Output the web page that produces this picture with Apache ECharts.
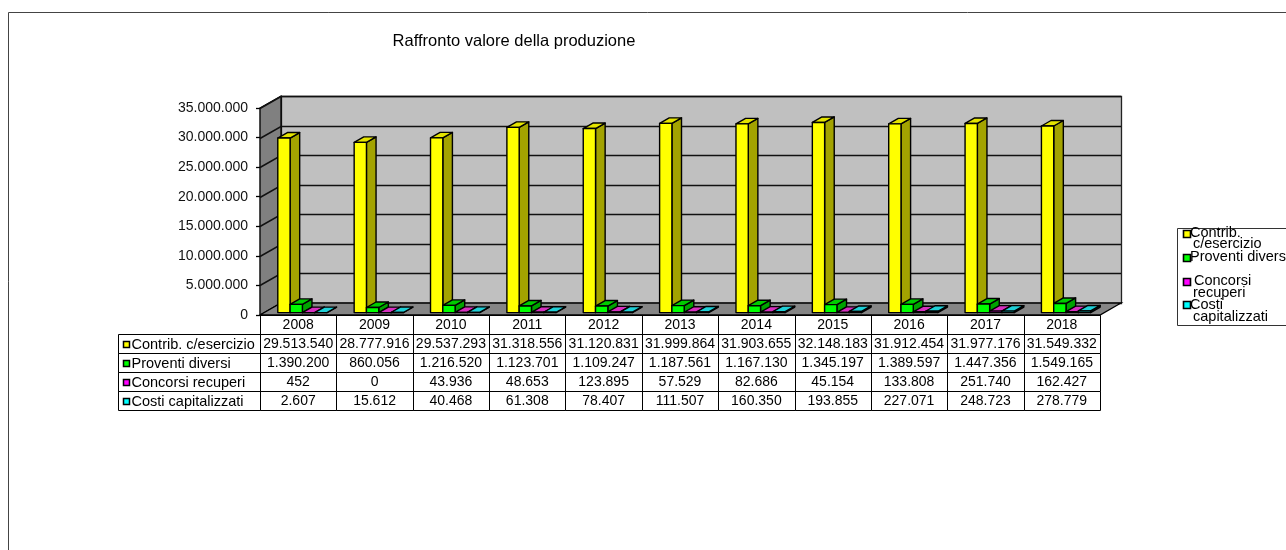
<!DOCTYPE html>
<html>
<head>
<meta charset="utf-8">
<script src="https://cdn.jsdelivr.net/npm/echarts@6/dist/echarts.min.js"></script>
<style>
  html, body { margin: 0; padding: 0; background: #fff; }
  #chart { width: 1286px; height: 550px; }
</style>
</head>
<body>
<div id="chart"></div>
<script>
// ---- data ----
const anni = ['2008', '2009', '2010', '2011', '2012', '2013', '2014', '2015', '2016', '2017', '2018'];
const contribEsercizio = [29513540, 28777916, 29537293, 31318556, 31120831, 31999864, 31903655, 32148183, 31912454, 31977176, 31549332];
const proventiDiversi = [1390200, 860056, 1216520, 1123701, 1109247, 1187561, 1167130, 1345197, 1389597, 1447356, 1549165];
const concorsiRecuperi = [452, 0, 43936, 48653, 123895, 57529, 82686, 45154, 133808, 251740, 162427];
const costiCapitalizzati = [2607, 15612, 40468, 61308, 78407, 111507, 160350, 193855, 227071, 248723, 278779];
const nomiSerie = ['Contrib. c/esercizio', 'Proventi diversi', 'Concorsi recuperi', 'Costi capitalizzati'];
const nomiLegenda = [['Contrib.', 'c/esercizio'], ['Proventi diversi'], ['Concorsi', 'recuperi'], ['Costi', 'capitalizzati']];
const titolo = 'Raffronto valore della produzione';
const asseMax = 35000000;
const assePasso = 5000000;

// ---- look ----
const FONT = '"Liberation Sans", Arial, sans-serif';
const PAL = [
  { front: '#ffff00', side: '#a3a300', top: '#e4e400' },
  { front: '#00ff00', side: '#00a300', top: '#00cc00' },
  { front: '#ff00ff', side: '#a300a3', top: '#d62fbf' },
  { front: '#00ffff', side: '#00a3a3', top: '#1fcfd6' }
];
const DEPTH = [21, -12];       // wall depth offset
const BAR_OFF = [4.2, -2.4];   // front face of the bars inside the depth
const BAR_DEPTH = [9.6, -5.5]; // bar thickness in depth
const BAR_FRAC = 0.161;        // bar width as fraction of the category band
const ROW_H = 19;
const LABEL_COL_W = 142;

const fmt = v => String(Math.round(v)).replace(/\B(?=(\d{3})+(?!\d))/g, '.');
const px = v => Math.round(v) + 0.5;

function renderWalls(params, api) {
  const cs = params.coordSys;
  const dx = DEPTH[0], dy = DEPTH[1];
  const x0 = cs.x, x1 = cs.x + cs.width;
  const yT = cs.y, yB = cs.y + cs.height;
  const kids = [
    { type: 'rect', shape: { x: px(x0 + dx), y: px(yT + dy), width: Math.round(cs.width), height: Math.round(cs.height) },
      style: { fill: '#c0c0c0', stroke: '#222', lineWidth: 1.3 } },
    { type: 'polygon', shape: { points: [[x0, yT], [x0 + dx, yT + dy], [x0 + dx, yB + dy], [x0, yB]] },
      style: { fill: '#808080', stroke: '#000', lineWidth: 1.3 } },
    { type: 'polygon', shape: { points: [[x0, yB], [x1, yB], [x1 + dx, yB + dy], [x0 + dx, yB + dy]] },
      style: { fill: '#858585', stroke: '#000', lineWidth: 1.3 } }
  ];
  for (let v = assePasso; v <= asseMax; v += assePasso) {
    const y = px(api.coord([0, v])[1]);
    kids.push({ type: 'polyline', shape: { points: [[x0, y], [x0 + dx, y + dy], [x1 + dx, y + dy]] },
      style: { stroke: '#111', lineWidth: 1.5, fill: null } });
  }
  return { type: 'group', children: kids };
}

function makeBarRenderer(s) {
  return function (params, api) {
    const i = api.value(0), v = api.value(1);
    const base = api.coord([i, 0]);
    const top = api.coord([i, v]);
    const band = api.size([1, 0])[0];
    const bw = band * BAR_FRAC;
    const x0 = base[0] - 2 * bw + s * bw + BAR_OFF[0];
    const yb = base[1] + BAR_OFF[1];
    const yt = top[1] + BAR_OFF[1];
    const dx = BAR_DEPTH[0], dy = BAR_DEPTH[1];
    const c = PAL[s];
    const edge = { stroke: '#000', lineWidth: 1.4, lineJoin: 'round' };
    const kids = [
      { type: 'polygon', shape: { points: [[x0 + bw, yt], [x0 + bw + dx, yt + dy], [x0 + bw + dx, yb + dy], [x0 + bw, yb]] },
        style: Object.assign({ fill: c.side }, edge) },
      { type: 'polygon', shape: { points: [[x0, yt], [x0 + bw, yt], [x0 + bw + dx, yt + dy], [x0 + dx, yt + dy]] },
        style: Object.assign({ fill: c.top }, edge) },
      { type: 'rect', shape: { x: x0, y: yt, width: bw, height: yb - yt },
        style: Object.assign({ fill: c.front }, edge) }
    ];

    // data table cell for this series / year
    const cs = params.coordSys;
    const axisY = cs.y + cs.height;
    const left = px(base[0] - band / 2);
    const right = px(base[0] + band / 2);
    const rowTop = px(axisY + ROW_H * (s + 1));
    kids.push({ type: 'rect', shape: { x: left, y: rowTop, width: right - left, height: ROW_H },
      style: { fill: null, stroke: '#000', lineWidth: 1 } });
    kids.push({ type: 'text', style: { text: fmt(v), x: base[0], y: rowTop + ROW_H / 2 + 0.5,
      align: 'center', verticalAlign: 'middle', fill: '#000', fontSize: 14, fontFamily: FONT } });

    if (s === 0) {
      // year row borders
      kids.push({ type: 'rect', shape: { x: left, y: px(axisY), width: right - left, height: ROW_H },
        style: { fill: null, stroke: '#000', lineWidth: 1 } });
    }
    if (i === 0) {
      // row header: key + series name
      const hx = px(cs.x - LABEL_COL_W);
      kids.push({ type: 'rect', shape: { x: hx, y: rowTop, width: px(cs.x) - hx, height: ROW_H },
        style: { fill: null, stroke: '#000', lineWidth: 1 } });
      kids.push({ type: 'rect', shape: { x: hx + 5, y: Math.round(rowTop + ROW_H / 2 - 3) + 0.5, width: 6, height: 6 },
        style: { fill: c.front, stroke: '#000', lineWidth: 1.5 } });
      kids.push({ type: 'text', style: { text: nomiSerie[s], x: hx + 13, y: rowTop + ROW_H / 2 + 0.5,
        align: 'left', verticalAlign: 'middle', fill: '#000', fontSize: 14.5, fontFamily: FONT } });
    }
    return { type: 'group', children: kids };
  };
}

const valori = [contribEsercizio, proventiDiversi, concorsiRecuperi, costiCapitalizzati];

// ---- legend (right side) ----
const legendLines = [
  { y: 233, x: 1190 }, { y: 244, x: 1193 },
  { y: 257, x: 1190 },
  { y: 281, x: 1194 }, { y: 293, x: 1193 },
  { y: 305, x: 1190 }, { y: 317, x: 1193 }
];
const legendKeys = [234, 258, 282, 305];
const legendGraphic = [
  { type: 'rect', shape: { x: 1177.5, y: 228.5, width: 140, height: 97 },
    style: { fill: '#fff', stroke: '#333', lineWidth: 1 } }
];
let li = 0;
nomiLegenda.forEach((righe, s) => {
  legendGraphic.push({ type: 'rect', shape: { x: 1183.5, y: legendKeys[s] - 3.5, width: 7, height: 7 },
    style: { fill: PAL[s].front, stroke: '#000', lineWidth: 1.6 } });
  righe.forEach(t => {
    const p = legendLines[li++];
    legendGraphic.push({ type: 'text', style: { text: t, x: p.x, y: p.y, align: 'left', verticalAlign: 'middle',
      fill: '#000', fontSize: 14.5, fontFamily: FONT } });
  });
});

const chart = echarts.init(document.getElementById('chart'), null, { renderer: 'canvas' });
chart.setOption({
  animation: false,
  backgroundColor: '#fff',
  grid: { left: 260, right: 186, top: 108, bottom: 235, containLabel: false },
  xAxis: {
    type: 'category',
    data: anni,
    boundaryGap: true,
    axisLine: { show: true, lineStyle: { color: '#000', width: 1 } },
    axisTick: { show: false },
    axisLabel: { margin: 3, color: '#000', fontSize: 14, fontFamily: FONT, interval: 0 },
    splitLine: { show: false }
  },
  yAxis: {
    type: 'value',
    min: 0,
    max: asseMax,
    interval: assePasso,
    axisLine: { show: true, lineStyle: { color: '#000', width: 1.3 } },
    axisTick: { show: true, length: 4, lineStyle: { color: '#000', width: 1.3 } },
    axisLabel: { margin: 12, color: '#111', fontSize: 14, fontFamily: FONT, formatter: v => fmt(v) },
    splitLine: { show: false }
  },
  graphic: [
    { type: 'rect', shape: { x: 8.5, y: 12.5, width: 1400, height: 700 },
      style: { fill: null, stroke: '#444', lineWidth: 1 }, z: -10, silent: true },
    { type: 'text', style: { text: titolo, x: 514, y: 41, align: 'center', verticalAlign: 'middle',
      fill: '#000', fontSize: 16.5, fontFamily: FONT } },
    { type: 'group', children: legendGraphic }
  ],
  series: [
    { type: 'custom', name: 'pareti', z: 1, renderItem: renderWalls, data: [[0, 0]], silent: true }
  ].concat(valori.map((arr, s) => ({
    type: 'custom',
    name: nomiSerie[s],
    z: 2,
    renderItem: makeBarRenderer(s),
    encode: { x: 0, y: 1 },
    data: arr.map((v, i) => [i, v])
  })))
});
</script>
</body>
</html>
